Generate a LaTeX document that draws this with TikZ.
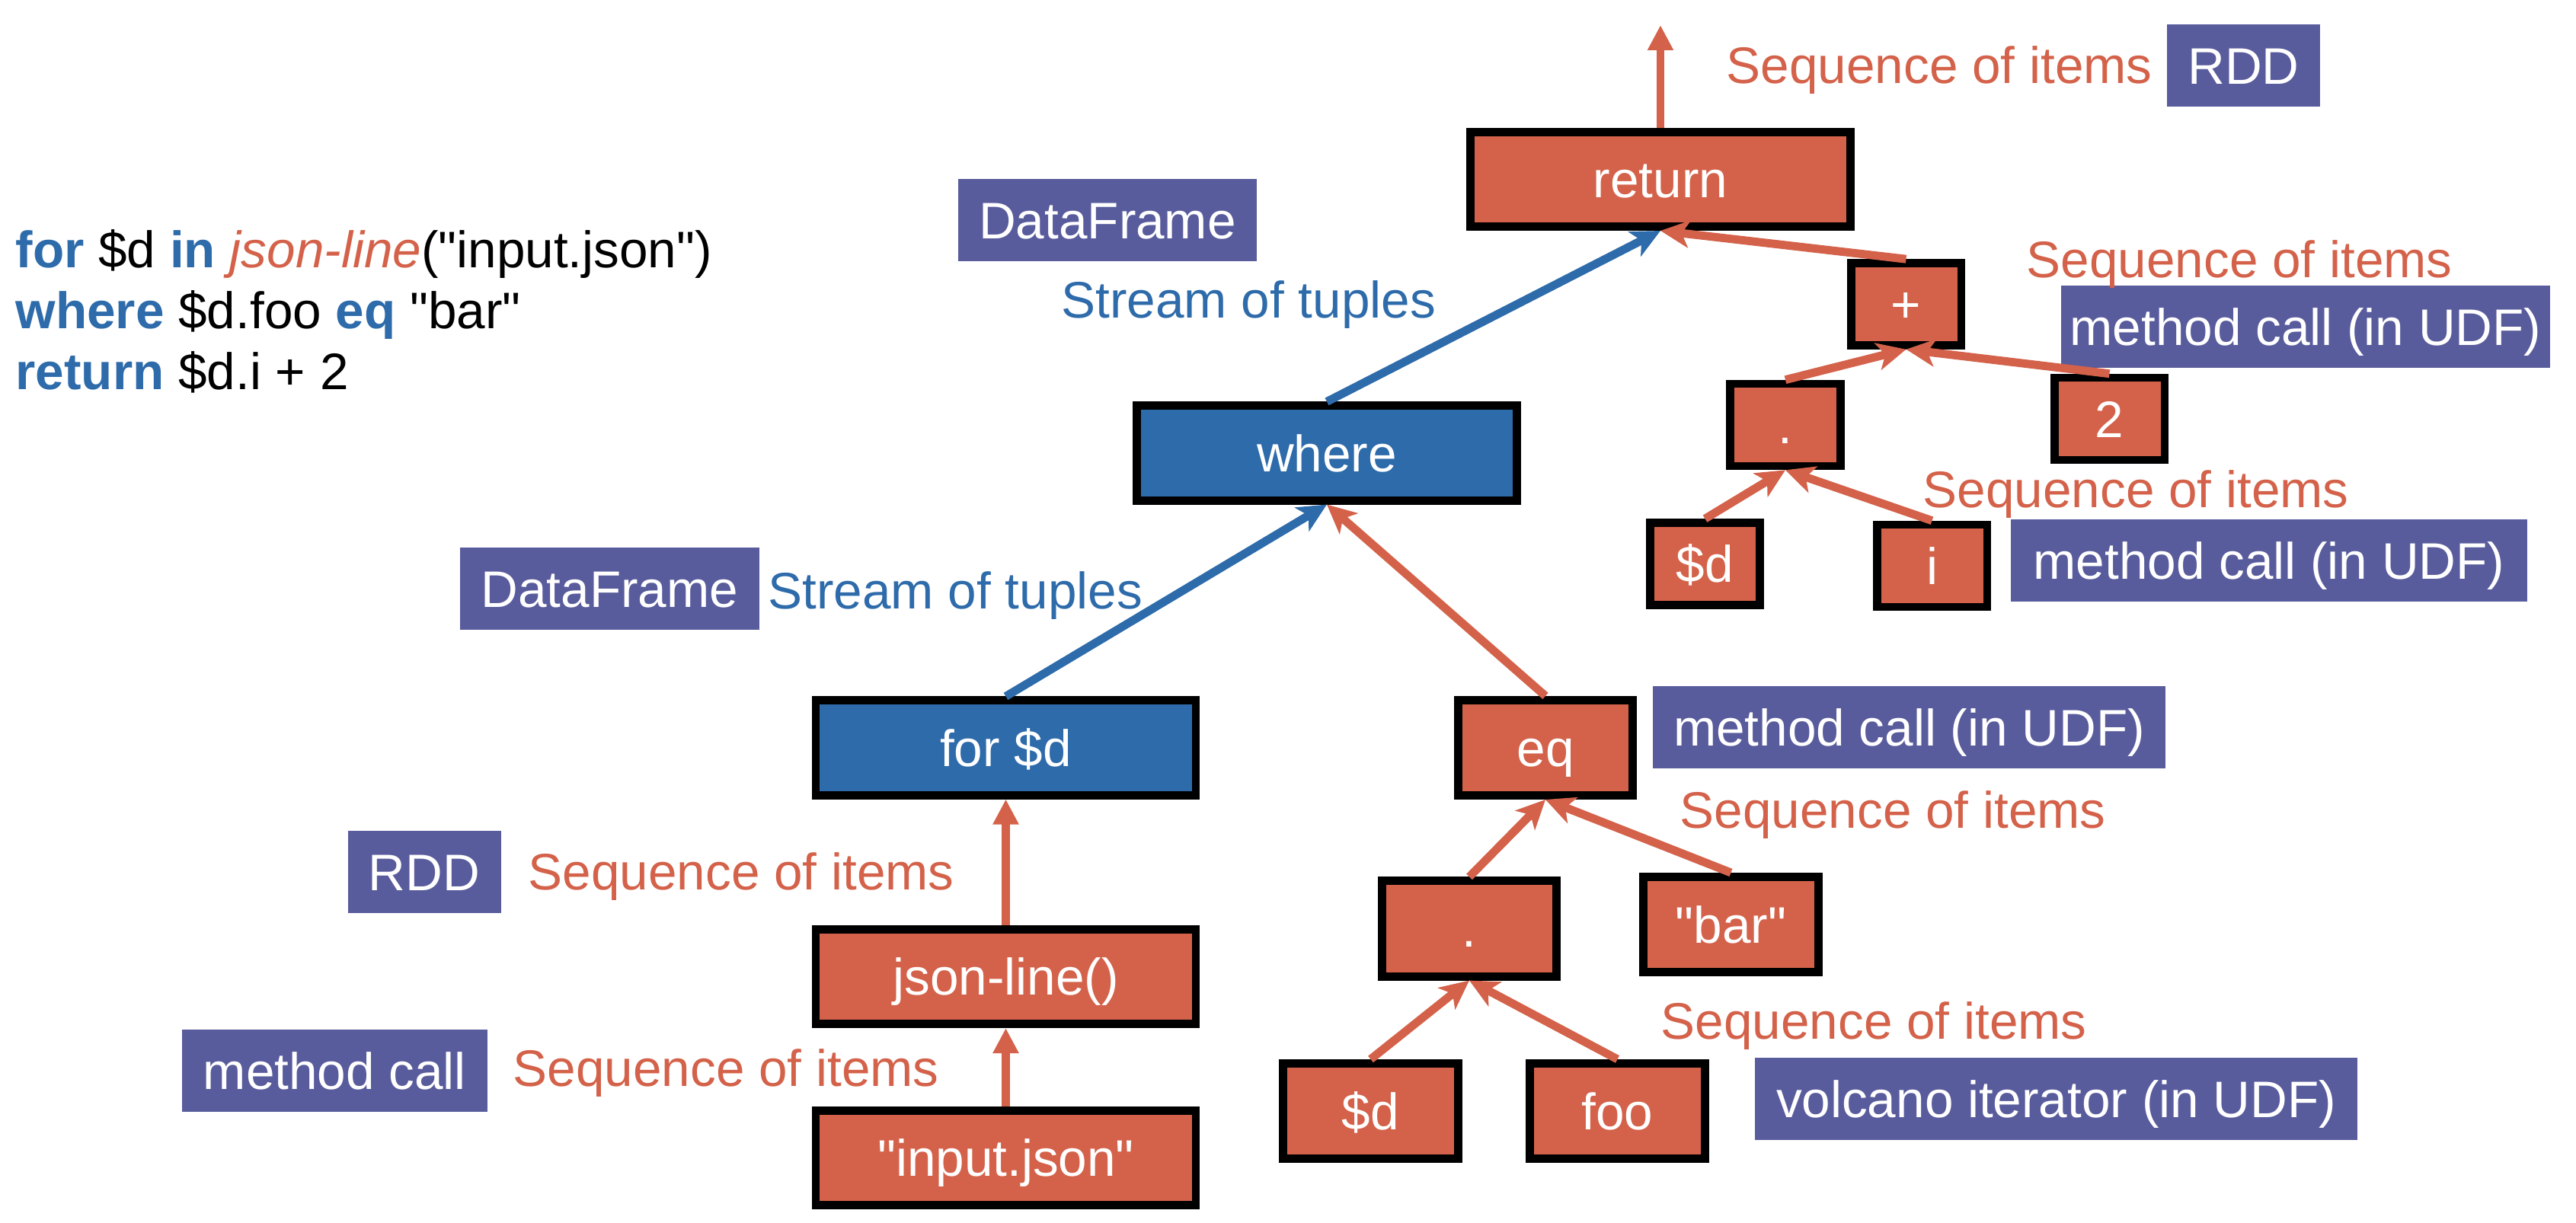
\documentclass[tikz,border=0pt]{standalone}
\usepackage{fontspec}
\setmainfont{Liberation Sans}
\usepackage{tikz}
\usetikzlibrary{arrows.meta,positioning}
\definecolor{rkorange}{HTML}{D4624A}
\definecolor{rkblue}{HTML}{2E6BAA}
\definecolor{rkpurple}{HTML}{595C9C}
\newcommand{\qt}[1]{\textquotedbl#1\textquotedbl}

\begin{document}
\begin{tikzpicture}[
  every node/.style={font=\fontsize{19.2}{23}\selectfont},
  expr/.style={draw=black,line width=3pt,fill=rkorange,text=white,inner sep=0pt,
    text height=0.485cm,text depth=0pt},
  clause/.style={expr,fill=rkblue},
  big/.style={minimum width=4.99cm,minimum height=1.245cm},
  mid/.style={minimum width=2.295cm,minimum height=1.255cm},
  small/.style={minimum width=1.445cm,minimum height=1.08cm},
  impl/.style={fill=rkpurple,text=white,inner sep=0pt,minimum height=1.08cm,
    text height=0.485cm,text depth=0pt},
  seqlabel/.style={text=rkorange,anchor=base west,inner sep=0pt},
  tuplabel/.style={text=rkblue,anchor=base west,inner sep=0pt},
  codeline/.style={anchor=base west,inner sep=0pt},
  flow/.style={draw=rkorange,line width=3.1pt,-{Stealth[length=0.38cm,width=0.36cm,inset=0.1cm]}},
  tupflow/.style={flow,draw=rkblue},
  upflow/.style={draw=rkorange,line width=3.1pt,-{Triangle[length=0.33cm,width=0.32cm]}}
]
\useasboundingbox (0,0) rectangle (33.82,-16.06);

\node[codeline] (code1) at (0.20,-3.52) {\textcolor{rkblue}{\textbf{for}} \$d
  \textcolor{rkblue}{\textbf{in}} \textcolor{rkorange}{\textit{json-line}}(\qt{input.json})};
\node[codeline] (code2) at (0.20,-4.32) {\textcolor{rkblue}{\textbf{where}} \$d.foo
  \textcolor{rkblue}{\textbf{eq}} \qt{bar}};
\node[codeline] (code3) at (0.20,-5.12) {\textcolor{rkblue}{\textbf{return}} \$d.i + 2};

% plan nodes
\node[expr,big] (ret) at (21.80,-2.355) {return};
\node[expr,small] (plus) at (25.025,-3.995) {+};
\node[clause,big] (where) at (17.42,-5.95) {where};
\node[expr,small] (dotA) at (23.44,-5.58) {.};
\node[expr,small] (two) at (27.695,-5.50) {2};
\node[expr,small] (varA) at (22.385,-7.405) {\$d};
\node[expr,small] (fld) at (25.365,-7.43) {i};
\node[clause,big] (forclause) at (13.205,-9.82) {for \$d};
\node[expr,mid] (eq) at (20.29,-9.82) {eq};
\node[expr,big] (jsonline) at (13.205,-12.825) {json-line()};
\node[expr,big] (input) at (13.205,-15.205) {\qt{input.json}};
\node[expr,mid] (dotB) at (19.29,-12.195) {.};
\node[expr,mid] (bar) at (22.725,-12.14) {\qt{bar}};
\node[expr,mid] (varB) at (17.995,-14.59) {\$d};
\node[expr,mid] (foo) at (21.235,-14.59) {foo};

% runtime implementations
\node[impl,minimum width=2.01cm] (rddA) at (29.455,-0.865) {RDD};
\node[impl,minimum width=6.42cm] (udfA) at (30.27,-4.29) {method call (in UDF)};
\node[impl,minimum width=6.78cm] (udfB) at (29.79,-7.365) {method call (in UDF)};
\node[impl,minimum width=6.73cm] (udfC) at (25.065,-9.555) {method call (in UDF)};
\node[impl,minimum width=7.91cm] (volcano) at (26.995,-14.43) {volcano iterator (in UDF)};
\node[impl,minimum width=3.92cm] (dfA) at (14.54,-2.895) {DataFrame};
\node[impl,minimum width=3.93cm] (dfB) at (8.005,-7.735) {DataFrame};
\node[impl,minimum width=2.01cm] (rddB) at (5.57,-11.455) {RDD};
\node[impl,minimum width=4.01cm] (mcall) at (4.395,-14.06) {method call};

\node[seqlabel] (seqA) at (22.66,-1.10) {Sequence of items};
\node[seqlabel] (seqB) at (26.60,-3.65) {Sequence of items};
\node[seqlabel] (seqC) at (25.24,-6.67) {Sequence of items};
\node[seqlabel] (seqD) at (22.05,-10.88) {Sequence of items};
\node[seqlabel] (seqE) at (21.80,-13.65) {Sequence of items};
\node[seqlabel] (seqF) at (6.93,-11.69) {Sequence of items};
\node[seqlabel] (seqG) at (6.73,-14.27) {Sequence of items};
\node[tuplabel] (tupA) at (13.93,-4.18) {Stream of tuples};
\node[tuplabel] (tupB) at (10.08,-8.00) {Stream of tuples};

\coordinate (result) at (21.80,-0.33);
\draw[upflow] (ret.north) -- (result);
\draw[tupflow] (where.north) -- (ret.south);
\draw[flow] (plus.north) -- (ret.south);
\draw[flow] (dotA.north) -- (plus.south);
\draw[flow] (two.north) -- (plus.south);
\draw[flow] (varA.north) -- (dotA.south);
\draw[flow] (fld.north) -- (dotA.south);
\draw[tupflow] (forclause.north) -- (where.south);
\draw[flow] (eq.north) -- (where.south);
\draw[upflow] (jsonline.north) -- (forclause.south);
\draw[upflow] (input.north) -- (jsonline.south);
\draw[flow] (dotB.north) -- (eq.south);
\draw[flow] (bar.north) -- (eq.south);
\draw[flow] (varB.north) -- (dotB.south);
\draw[flow] (foo.north) -- (dotB.south);
\end{tikzpicture}
\end{document}
